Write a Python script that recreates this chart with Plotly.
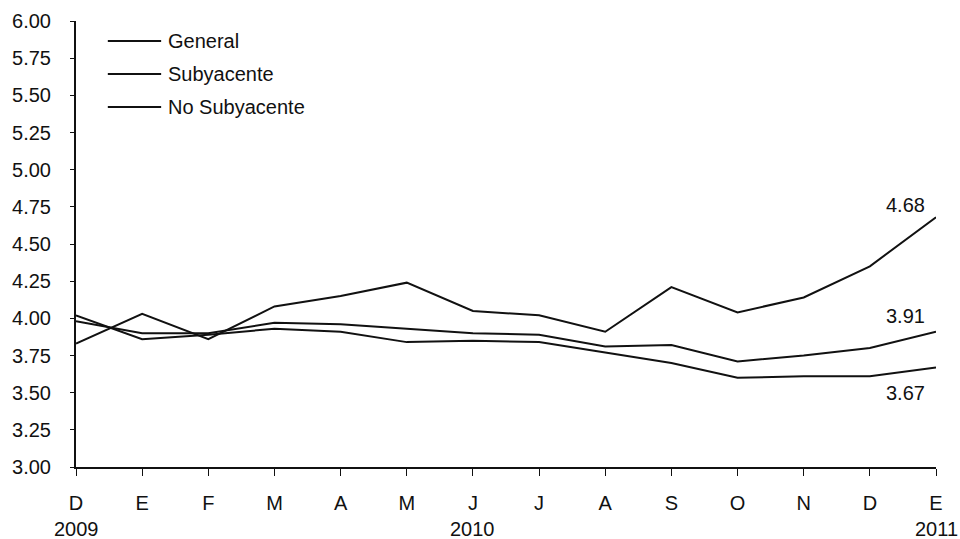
import plotly.graph_objects as go

months = ["D", "E", "F", "M", "A", "M", "J", "J", "A", "S", "O", "N", "D", "E"]
years = {0: "2009", 6: "2010", 13: "2011"}

general = [3.98, 3.90, 3.90, 3.97, 3.96, 3.93, 3.90, 3.89, 3.81, 3.82, 3.71, 3.75, 3.80, 3.91]
subyacente = [4.02, 3.86, 3.89, 3.93, 3.91, 3.84, 3.85, 3.84, 3.77, 3.70, 3.60, 3.61, 3.61, 3.67]
no_subyacente = [3.83, 4.03, 3.86, 4.08, 4.15, 4.24, 4.05, 4.02, 3.91, 4.21, 4.04, 4.14, 4.35, 4.68]

y_ticks = [3.00, 3.25, 3.50, 3.75, 4.00, 4.25, 4.50, 4.75, 5.00, 5.25, 5.50, 5.75, 6.00]

x = list(range(len(months)))
ink = "#111"
font = dict(family="Liberation Sans, Arial, sans-serif", size=20, color=ink)

fig = go.Figure()
series = [("General", general), ("Subyacente", subyacente), ("No Subyacente", no_subyacente)]
for name, vals in series:
    fig.add_trace(go.Scatter(x=x, y=vals, mode="lines", name=name,
                             line=dict(color=ink, width=2), showlegend=False))

# legend drawn as short line samples with labels, upper left of the plot
legend_y = [0.955, 0.881, 0.807]
for (name, _), ly in zip(series, legend_y):
    fig.add_shape(type="line", xref="paper", yref="paper", x0=0.037, x1=0.099,
                  y0=ly, y1=ly, line=dict(color=ink, width=2))
    fig.add_annotation(xref="paper", yref="paper", x=0.105, y=ly, text=name,
                       showarrow=False, xanchor="left", yanchor="middle", font=font)

# end-of-series value labels
for vals, ys in [(no_subyacente, 12), (general, 16), (subyacente, -26)]:
    fig.add_annotation(x=x[-1], y=vals[-1], text=f"{vals[-1]:.2f}", showarrow=False,
                       xshift=-31, yshift=ys, font=font)

# year labels under the month letters
for xi, yr in years.items():
    fig.add_annotation(x=xi, xref="x", y=0, yref="paper", text=yr, showarrow=False,
                       yanchor="middle", yshift=-62, font=font)

fig.update_layout(
    width=960, height=539,
    margin=dict(l=76, r=24, t=21, b=72),
    paper_bgcolor="white", plot_bgcolor="white",
    font=font,
    showlegend=False,
    xaxis=dict(range=[0, 13], tickmode="array", tickvals=x, ticktext=months,
               showline=True, linecolor=ink, linewidth=2, ticks="outside",
               ticklen=7, tickcolor=ink, showgrid=False, zeroline=False,
               tickfont=font, automargin=False, ticklabelstandoff=10),
    yaxis=dict(range=[3, 6], tickmode="array", tickvals=y_ticks,
               ticktext=[f"{v:.2f}" for v in y_ticks],
               showline=True, linecolor=ink, linewidth=2, ticks="outside",
               ticklen=4, tickcolor=ink, showgrid=False, zeroline=False,
               tickfont=font, automargin=False, ticklabelstandoff=15),
)

fig.write_html("out.html")
